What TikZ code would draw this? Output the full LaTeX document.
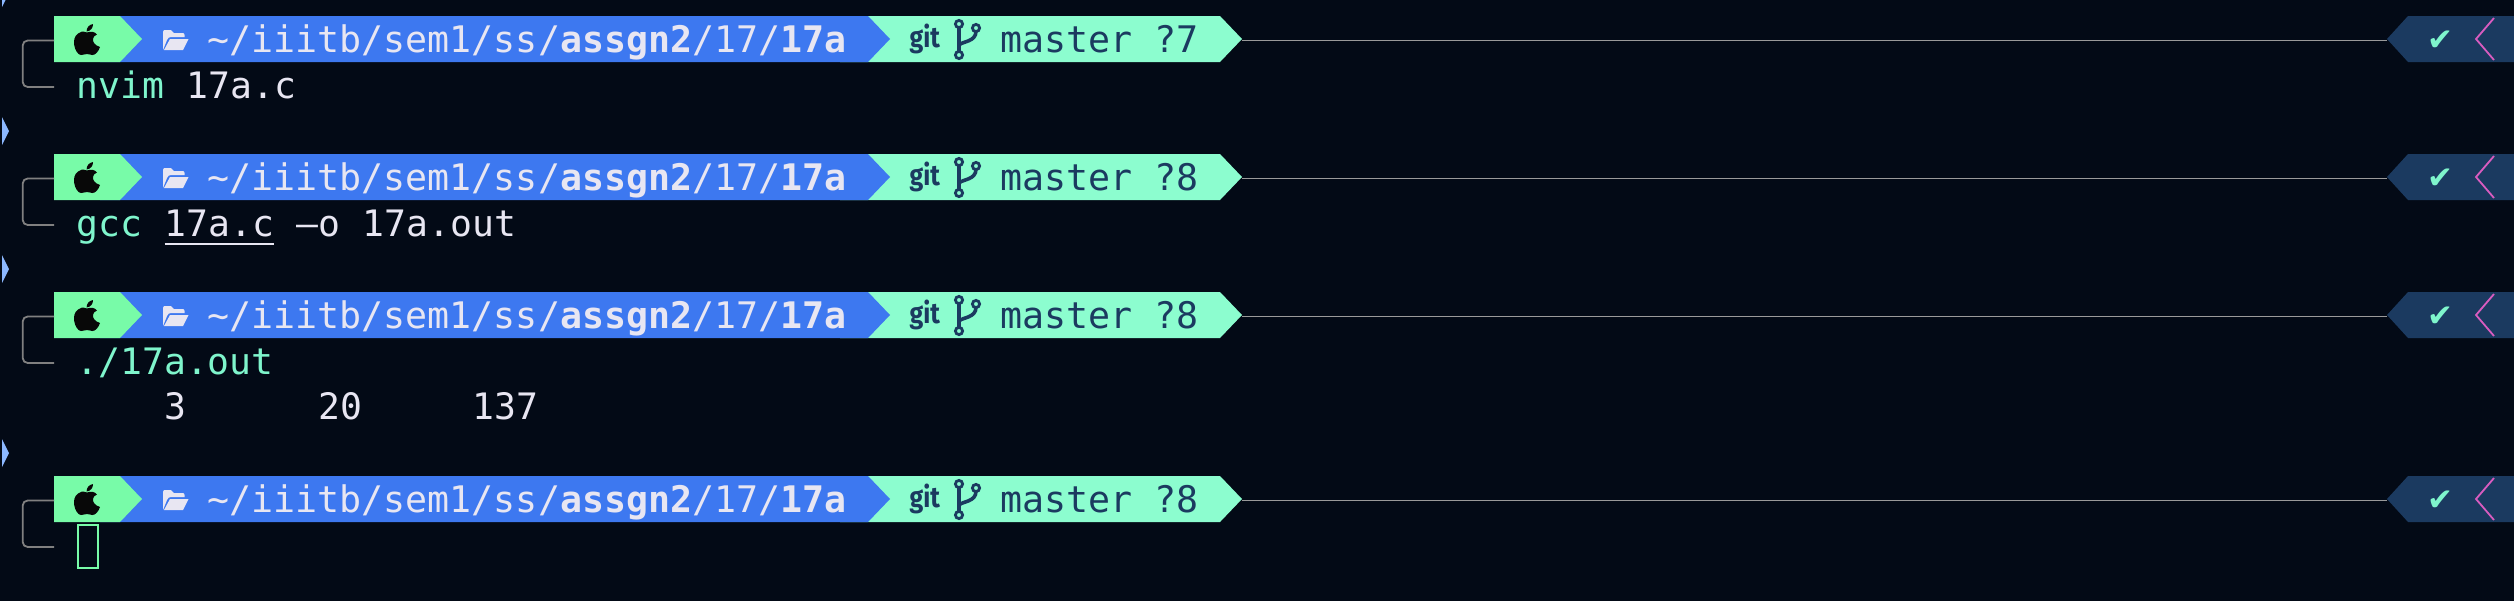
\documentclass[tikz,border=0pt]{standalone}
\usepackage{graphicx}
\usepackage{fontspec}
\setmonofont{DejaVu Sans Mono}
\newfontfamily\symfont{DejaVu Sans}
\newfontfamily\gitfont{Fira Sans}
\definecolor{bgc}{HTML}{030A16}
\definecolor{seggreen}{HTML}{78FBA8}
\definecolor{segblue}{HTML}{3D78F0}
\definecolor{segmint}{HTML}{8CFDCF}
\definecolor{segnavy}{HTML}{1B3A60}
\definecolor{txtc}{HTML}{E8E6F2}
\definecolor{cmdc}{HTML}{7FF5CC}
\definecolor{linec}{HTML}{808080}
\definecolor{rulec}{HTML}{9A9A9A}
\definecolor{pinkc}{HTML}{D95CC0}
\definecolor{markc}{HTML}{8CB8FF}
\newcommand{\termsize}{\fontsize{36.6}{40}\selectfont\ttfamily}
\newcommand{\bodysize}{\fontsize{36.4}{40}\selectfont\ttfamily}
\tikzset{
  termtext/.style={anchor=base west,inner sep=0pt,outer sep=0pt,font=\bodysize},
  pathtext/.style={termtext,font=\termsize,text=txtc},
  cmdtext/.style={termtext,text=cmdc},
  outtext/.style={termtext,text=txtc},
  branchtext/.style={termtext,font=\termsize,text=segnavy},
  connector/.style={draw=rulec,line width=1.8pt},
  bracket/.style={draw=linec,line width=1.8pt,rounded corners=5pt},
  branchline/.style={draw=segnavy,line width=3.6pt,line cap=round},
  branchdot/.style={draw=segnavy,line width=2.8pt,fill=segmint},
}
\newcommand{\promptbar}[3]{%
\begin{scope}[shift={(0,#2)}]
  \fill[segnavy] (2387,23) -- (2408,0) -- (2514,0) -- (2514,46) -- (2408,46) -- cycle;
  \fill[segmint] (840,0) -- (1220,0) -- (1242,23) -- (1220,46) -- (840,46) -- cycle;
  \fill[segblue] (100,0) -- (868,0) -- (890,23) -- (868,46) -- (100,46) -- cycle;
  \fill[seggreen] (54,0) -- (120,0) -- (142,23) -- (120,46) -- (54,46) -- cycle;
  \coordinate (#1bartop) at (54,24.5);
  \coordinate (#1barlow) at (54,71);
  \coordinate (#1left) at (22.7,0);
  \coordinate (#1tip) at (1242,24.5);
  \coordinate (#1rtip) at (2387,24.5);
  \draw[bracket] (#1bartop) -- (#1left |- #1bartop) -- (#1left |- #1barlow) -- (#1barlow);
  \draw[connector] (#1tip) -- (#1rtip);
  % apple logo
  \fill[black!97] (87,16.5) .. controls (83,15) and (80,15.5) .. (78,17.5)
     .. controls (74.5,20) and (73.5,24.5) .. (74.2,29)
     .. controls (75,34) and (78,39) .. (81,39)
     .. controls (83,39) and (85,38) .. (87,38)
     .. controls (89,38) and (91,39) .. (92.5,39)
     .. controls (95.5,39) and (98.5,35.5) .. (100,31)
     .. controls (95,29.5) and (92.5,26) .. (93,23)
     .. controls (93,21) and (94.5,19.5) .. (97,18.5)
     .. controls (94.5,15.5) and (91,15) .. (87,16.5) -- cycle;
  \fill[black!97] (86.6,15.5) .. controls (86.6,11.5) and (89,8.8) .. (93,8)
     .. controls (93.2,12) and (90.5,15) .. (86.6,15.5) -- cycle;
  % open folder
  \fill[txtc] (163,34) -- (163,16) .. controls (163,14.5) and (164,14) .. (165,14) -- (171,14) -- (174,17) -- (183,17)
     .. controls (184,17) and (184.5,18) .. (184.5,19) -- (184.5,21) -- (171,21) .. controls (169,21) and (168,22) .. (167,24) -- cycle;
  \fill[txtc] (170,23) -- (188.5,23) -- (183,34) -- (164,34) -- cycle;
  \node[pathtext] (#1path) at (207.5,36.6) {\textasciitilde/iiitb/sem1/ss/\textbf{assgn2}/17/\textbf{17a}};
  \node[anchor=base west,inner sep=0pt,text=segnavy] (#1git) at (909.5,31.5)
     {\gitfont\bfseries\fontsize{29}{29}\selectfont\scalebox{0.86}[1]{git}};
  % branch icon
  \draw[branchline] (959,12) -- (959,35);
  \draw[branchline] (959,29) .. controls (963,25) and (976,26) .. (976,15);
  \draw[branchdot] (959,8) circle (3.6);
  \draw[branchdot] (976,12) circle (3.6);
  \draw[branchdot] (959,39) circle (3.6);
  \node[branchtext] (#1branch) at (1000,36.6) {master ?#3};
  \node[anchor=base west,inner sep=0pt,text=cmdc] (#1check) at (2427.5,34.5)
     {\symfont\fontsize{31}{31}\selectfont ✔};
  \coordinate (#1chevtop) at (2494,2);
  \coordinate (#1chevmid) at (2476,23);
  \coordinate (#1chevlow) at (2494,44);
  \draw[pinkc,line width=1.8pt] (#1chevtop) -- (#1chevmid) -- (#1chevlow);
\end{scope}}
\begin{document}
\begin{tikzpicture}[x=1pt,y=-1pt]
  \useasboundingbox (0,0) rectangle (2514,600);
  \fill[bgc] (-6,-6) rectangle (2520,606);
  % side markers
  \fill[markc] (2,-21) -- (9,-7) -- (2,7) -- cycle;
  \fill[markc] (2,117) -- (9,131) -- (2,145) -- cycle;
  \fill[markc] (2,255) -- (9,269) -- (2,283) -- cycle;
  \fill[markc] (2,439) -- (9,453) -- (2,467) -- cycle;
  \promptbar{a}{16}{7}
  \promptbar{b}{154}{8}
  \promptbar{c}{292}{8}
  \promptbar{d}{476}{8}
  % first command
  \node[cmdtext] (nvim) at (76.5,98.8) {nvim};
  \node[outtext] (nvimarg) at (186.5,98.8) {17a.c};
  % second command
  \node[cmdtext] (gcc) at (76.5,236.8) {gcc};
  \node[outtext] (gccarg) at (164.6,236.8) {17a.c};
  \node[outtext] (gccrest) at (296.8,236.8) {\symbol{"2013}o 17a.out};
  \coordinate (ulstart) at (164.6,244);
  \coordinate (ulend) at (274,244);
  \draw[txtc,line width=2pt] (ulstart) -- (ulend);
  % third command and output
  \node[cmdtext] (run) at (76.5,374.8) {./17a.out};
  \node[outtext] (outa) at (164.6,419.8) {3};
  \node[outtext] (outb) at (318.8,419.8) {20};
  \node[outtext] (outc) at (472.3,419.8) {137};
  % cursor
  \node[draw=seggreen,line width=2pt,fill=none,minimum width=20pt,minimum height=43pt,inner sep=0pt,anchor=north west] (cursor) at (76.5,523.5) {};
\end{tikzpicture}
\end{document}
